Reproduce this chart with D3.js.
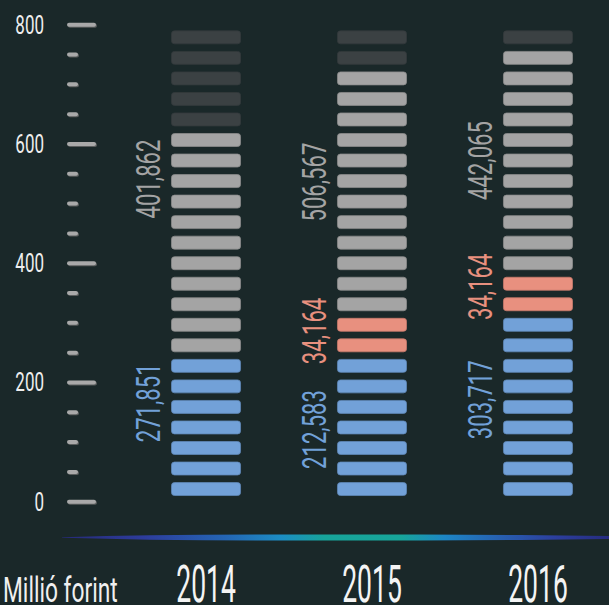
<!DOCTYPE html>
<html>
<head>
<meta charset="utf-8">
<script src="https://cdn.jsdelivr.net/npm/d3@7"></script>
<style>
  html, body { margin: 0; padding: 0; background: #1a2829; }
  svg { display: block; }
</style>
</head>
<body>
<div id="chart"></div>
<script>
// ---- data ----
var years = ["2014", "2015", "2016"];
var blueValues = [271851, 212583, 303717];
var redValues = [null, 34164, 34164];
var grayValues = [401862, 506567, 442065];
// how many cells of the 23-cell column each part lights up
var blueCells = [7, 7, 9];
var redCells = [0, 2, 2];
var grayCells = [11, 12, 11];
var totalCells = 23;
var axisMax = 800;
var unitLabel = "Millió forint";

// ---- layout ----
var width = 609, height = 605;
var font = "Roboto, 'Liberation Sans', sans-serif";
var colors = { blue: "#72a1d8", red: "#e8907f", gray: "#a4a4a4", empty: "#3b4143" };
var borders = { blue: "#5f88b8", red: "#c97a6c", gray: "#8c8c8c", empty: "#343a3c" };
// nudge of each label along its column, in cells (labels are not exactly centred)
var labelShift = {
    blue: [1.2, -0.1, 0.35],
    red: [0, 0.2, 0.35],
    gray: [3.1, 0.45, 0]
};

var svg = d3.select("#chart").append("svg")
    .attr("width", width)
    .attr("height", height)
    .style("background", "#1a2829")
    .style("font-family", font)
    .style("font-weight", 400);

var y = d3.scaleLinear().domain([0, axisMax]).range([501.7, 24.7]);
var x = d3.scaleBand().domain(years).range([171, 573]).paddingInner(0.578).paddingOuter(0);
var cellY = d3.scaleBand().domain(d3.range(totalCells))
    .range([y(4), y(796)])
    .paddingInner(0.32).paddingOuter(0.16);

// ---- y axis: pill ticks + labels ----
var ticks = y.ticks(20);
var axisG = svg.append("g").attr("class", "y-axis");
ticks.forEach(function(v) {
    var major = v % 200 === 0;
    var w = major ? 29 : 11;
    axisG.append("rect")
        .attr("x", 68).attr("y", y(v) - 1)
        .attr("width", w).attr("height", 4).attr("rx", 2)
        .attr("fill", "#5b5e5e");
    axisG.append("rect")
        .attr("x", 67).attr("y", y(v) - 2)
        .attr("width", w).attr("height", 4).attr("rx", 2)
        .attr("fill", "#a9a9a9");
    if(major) {
        axisG.append("text")
            .attr("transform", "translate(44," + y(v) + ") scale(0.68,1)")
            .attr("text-anchor", "end")
            .attr("dy", "0.36em")
            .style("font-size", "25px")
            .attr("fill", "#eeeeee")
            .text(v);
    }
});

// ---- columns of cells ----
var fmt = d3.format(",");
years.forEach(function(yr, i) {
    var cells = d3.range(totalCells).map(function(k) {
        var kind = "empty";
        if(k < blueCells[i]) kind = "blue";
        else if(k < blueCells[i] + redCells[i]) kind = "red";
        else if(k < blueCells[i] + redCells[i] + grayCells[i]) kind = "gray";
        return { k: k, kind: kind };
    });
    var g = svg.append("g").attr("class", "col-" + yr);
    g.selectAll("rect").data(cells).enter().append("rect")
        .attr("x", x(yr) + 0.5)
        .attr("y", function(d) { return cellY(d.k) + 0.5; })
        .attr("width", x.bandwidth() - 1)
        .attr("height", cellY.bandwidth() - 1)
        .attr("rx", 3)
        .attr("fill", function(d) { return colors[d.kind]; })
        .attr("stroke", function(d) { return borders[d.kind]; })
        .attr("stroke-width", 0.8);

    // value labels, rotated, left of column
    var parts = [
        { kind: "blue", value: blueValues[i], from: 0, n: blueCells[i] },
        { kind: "red", value: redValues[i], from: blueCells[i], n: redCells[i] },
        { kind: "gray", value: grayValues[i], from: blueCells[i] + redCells[i], n: grayCells[i] }
    ];
    parts.forEach(function(p) {
        if(p.value == null || p.n === 0) return;
        var mid = p.from + (p.n - 1) / 2 + labelShift[p.kind][i];
        var cy = cellY(0) + cellY.bandwidth() / 2 - mid * cellY.step();
        g.append("text")
            .attr("transform", "translate(" + (x(yr) - 11) + "," + cy + ") rotate(-90) scale(0.65,1)")
            .attr("text-anchor", "middle")
            .style("font-size", "34px")
            .attr("fill", colors[p.kind])
            .text(fmt(p.value));
    });
});

// ---- gradient baseline ----
var defs = svg.append("defs");
var grad = defs.append("linearGradient").attr("id", "baseGrad")
    .attr("gradientUnits", "userSpaceOnUse")
    .attr("x1", 62).attr("x2", width).attr("y1", 0).attr("y2", 0);
[[0, "#262a78"], [0.15, "#2d3c9c"], [0.3, "#2466b5"], [0.4, "#1c8dc4"], [0.48, "#17a49a"],
 [0.62, "#17a59a"], [0.7, "#1d86c6"], [0.8, "#2760b0"], [0.9, "#2c3f9e"], [1, "#262c80"]]
    .forEach(function(s) {
        grad.append("stop").attr("offset", s[0]).attr("stop-color", s[1]);
    });
var base = [[62, 0.3], [150, 2.2], [260, 3], [420, 3], [520, 2.4], [609, 1.5]];
svg.append("path")
    .datum(base)
    .attr("d", d3.area()
        .x(function(d) { return d[0]; })
        .y0(function(d) { return 537.5 - d[1]; })
        .y1(function(d) { return 537.5 + d[1]; })
        .curve(d3.curveMonotoneX))
    .attr("fill", "url(#baseGrad)");

// ---- x labels ----
years.forEach(function(yr) {
    svg.append("text")
        .attr("transform", "translate(" + (x(yr) + x.bandwidth() / 2) + ",602) scale(0.52,1)")
        .attr("text-anchor", "middle")
        .style("font-size", "51px")
        .attr("fill", "#f4f4f4")
        .text(yr);
});
svg.append("text")
    .attr("transform", "translate(3,602) scale(0.65,1)")
    .style("font-size", "35px")
    .attr("fill", "#f0f0f0")
    .text(unitLabel);
</script>
</body>
</html>
